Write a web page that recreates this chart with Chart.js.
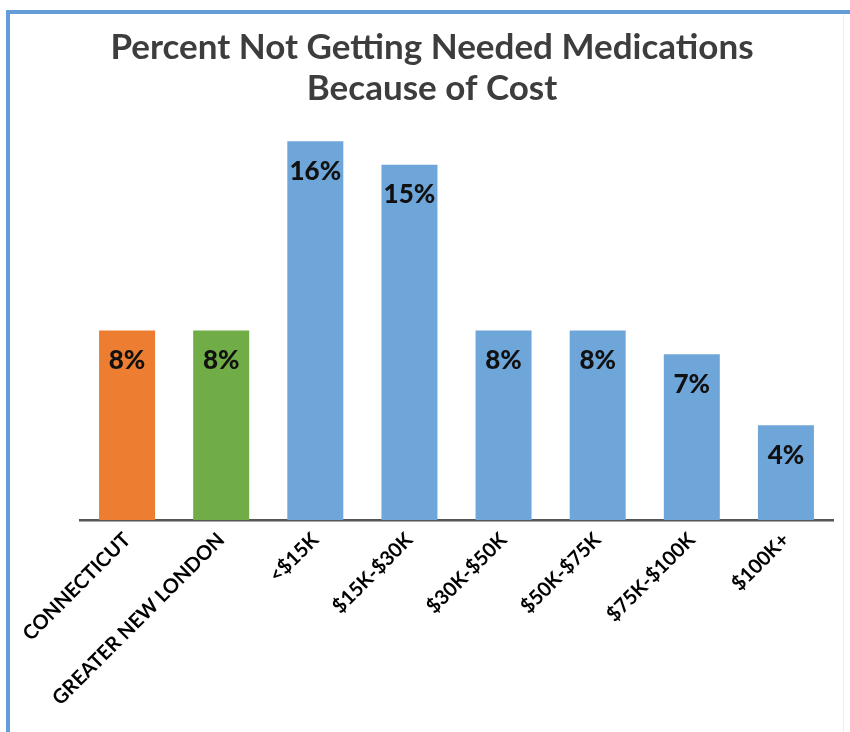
<!DOCTYPE html>
<html><head><meta charset="utf-8">
<script src="https://cdn.jsdelivr.net/npm/chart.js@4/dist/chart.umd.min.js"></script>
<style>
html,body{margin:0;padding:0;background:#fff;}
#wrap{position:relative;width:850px;height:732px;overflow:hidden;}
canvas{position:absolute;left:0;top:0;}
#frameTop{position:absolute;left:6px;top:10px;width:844px;height:4px;background:#639dd7;}
#frameLeft{position:absolute;left:6px;top:10px;width:4px;height:722px;background:#639dd7;}
#frameRight{position:absolute;left:843px;top:14px;width:1px;height:718px;background:#eeeeee;}
</style></head><body>
<div id="wrap"><canvas id="c" width="850" height="732"></canvas><div id="frameTop"></div><div id="frameLeft"></div><div id="frameRight"></div></div>
<script>
const titleLines = ['Percent Not Getting Needed Medications', 'Because of Cost'];
const categories = ['CONNECTICUT', 'GREATER NEW LONDON', '<$15K', '$15K-$30K', '$30K-$50K', '$50K-$75K', '$75K-$100K', '$100K+'];
const percentValues = [8, 8, 16, 15, 8, 8, 7, 4];
const barColors = ['#ED7D31', '#70AD47', '#6FA6DA', '#6FA6DA', '#6FA6DA', '#6FA6DA', '#6FA6DA', '#6FA6DA'];

const valueLabels = {
  id: 'valueLabels',
  afterDatasetsDraw(chart) {
    const ctx = chart.ctx;
    const meta = chart.getDatasetMeta(0);
    ctx.save();
    ctx.font = '900 26px Lato';
    ctx.fillStyle = '#111111';
    ctx.textAlign = 'center';
    ctx.textBaseline = 'middle';
    meta.data.forEach((bar, i) => {
      ctx.fillText(percentValues[i] + '%', bar.x, bar.y + 30);
    });
    ctx.restore();
  }
};

const titleDraw = {
  id: 'titleDraw',
  afterDraw(chart) {
    const ctx = chart.ctx;
    ctx.save();
    ctx.font = 'bold 35px Lato';
    ctx.fillStyle = '#3d3d3d';
    ctx.textAlign = 'center';
    ctx.textBaseline = 'alphabetic';
    titleLines.forEach((line, i) => {
      ctx.fillText(line, 432, 59 + i * 41);
    });
    ctx.restore();
  }
};

new Chart(document.getElementById('c'), {
  type: 'bar',
  data: {
    labels: categories,
    datasets: [{
      data: percentValues,
      backgroundColor: barColors,
      borderWidth: 0,
      barPercentage: 1,
      categoryPercentage: 0.595
    }]
  },
  options: {
    responsive: false,
    animation: false,
    devicePixelRatio: 1,
    layout: { padding: { left: 80, right: 17, top: 108, bottom: 0 } },
    plugins: {
      legend: { display: false },
      tooltip: { enabled: false },
      title: { display: false }
    },
    scales: {
      y: { display: false, min: 0, max: 17.4 },
      x: {
        grid: { display: false, drawTicks: false, tickLength: 0 },
        border: { display: true, color: '#555555', width: 2.5 },
        ticks: {
          color: '#000000',
          font: { family: 'Lato', size: 20, weight: 'bold' },
          minRotation: 45,
          maxRotation: 45,
          padding: 8,
          autoSkip: false
        },
        afterFit(scale) { scale.height = 212; }
      }
    }
  },
  plugins: [valueLabels, titleDraw]
});
</script>
</body></html>
